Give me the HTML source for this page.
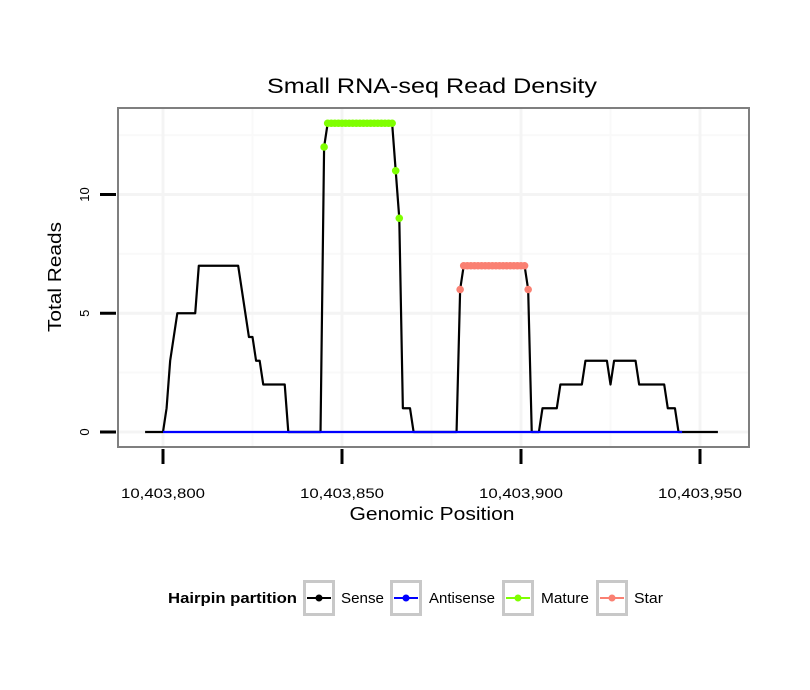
<!DOCTYPE html>
<html><head><meta charset="utf-8"><style>
body{margin:0;background:#fff;}
svg{display:block;font-family:"Liberation Sans","DejaVu Sans",sans-serif;}
</style></head><body>
<svg width="810" height="690" viewBox="0 0 810 690">
<rect width="810" height="690" fill="#fff"/>
<text x="432" y="93" text-anchor="middle" font-size="21" textLength="330" lengthAdjust="spacingAndGlyphs">Small RNA-seq Read Density</text>
<g id="grid"></g>
<g id="marks"></g>
<rect x="118" y="108" width="631" height="339" fill="none" stroke="#7f7f7f" stroke-width="2"/>
<g id="axes"></g>
<text x="432" y="520" text-anchor="middle" font-size="18" textLength="165" lengthAdjust="spacingAndGlyphs">Genomic Position</text>
<text transform="translate(61,277) rotate(-90)" text-anchor="middle" font-size="18" textLength="110" lengthAdjust="spacingAndGlyphs">Total Reads</text>
<g>
<text x="168" y="603" font-size="15" font-weight="bold" textLength="129" lengthAdjust="spacingAndGlyphs">Hairpin partition</text>
<g><rect x="304.5" y="581.5" width="29" height="33" fill="#fff" stroke="#c8c8c8" stroke-width="3"/><line x1="307" y1="598" x2="331" y2="598" stroke="#000" stroke-width="2"/><circle cx="319" cy="598" r="3.5" fill="#000"/><text x="341" y="603" font-size="15" textLength="43" lengthAdjust="spacingAndGlyphs">Sense</text></g>
<g><rect x="391.5" y="581.5" width="29" height="33" fill="#fff" stroke="#c8c8c8" stroke-width="3"/><line x1="394" y1="598" x2="418" y2="598" stroke="#0000ff" stroke-width="2"/><circle cx="406" cy="598" r="3.5" fill="#0000ff"/><text x="429" y="603" font-size="15" textLength="66" lengthAdjust="spacingAndGlyphs">Antisense</text></g>
<g><rect x="503.5" y="581.5" width="29" height="33" fill="#fff" stroke="#c8c8c8" stroke-width="3"/><line x1="506" y1="598" x2="530" y2="598" stroke="#7fff00" stroke-width="2"/><circle cx="518" cy="598" r="3.5" fill="#7fff00"/><text x="541" y="603" font-size="15" textLength="48" lengthAdjust="spacingAndGlyphs">Mature</text></g>
<g><rect x="597.5" y="581.5" width="29" height="33" fill="#fff" stroke="#c8c8c8" stroke-width="3"/><line x1="600" y1="598" x2="624" y2="598" stroke="#fa8072" stroke-width="2"/><circle cx="612" cy="598" r="3.5" fill="#fa8072"/><text x="634" y="603" font-size="15" textLength="29" lengthAdjust="spacingAndGlyphs">Star</text></g>
</g>
</svg>
<script>
const senseStart = 10403795;
const senseValues = [0,0,0,0,0,0,1,3,4,5,5,5,5,5,5,7,7,7,7,7,7,7,7,7,7,7,7,6,5,4,4,3,3,2,2,2,2,2,2,2,0,0,0,0,0,0,0,0,0,0,12,13,13,13,13,13,13,13,13,13,13,13,13,13,13,13,13,13,13,13,11,9,1,1,1,0,0,0,0,0,0,0,0,0,0,0,0,0,6,7,7,7,7,7,7,7,7,7,7,7,7,7,7,7,7,7,7,6,0,0,0,1,1,1,1,1,2,2,2,2,2,2,2,3,3,3,3,3,3,3,2,3,3,3,3,3,3,3,2,2,2,2,2,2,2,2,1,1,1,0,0,0,0,0,0,0,0,0,0,0,0];
const antisensePositions = [10403800, 10403945];
const antisenseValues = [0, 0];
const matureStart = 10403845;
const matureValues = [12,13,13,13,13,13,13,13,13,13,13,13,13,13,13,13,13,13,13,13,11,9];
const starStart = 10403883;
const starValues = [6,7,7,7,7,7,7,7,7,7,7,7,7,7,7,7,7,7,7,6];
const xTicks = [10403800, 10403850, 10403900, 10403950];
const xTickLabels = ["10,403,800","10,403,850","10,403,900","10,403,950"];
const yTicks = [0, 5, 10];
const yTickLabels = ["0","5","10"];

const NS = "http://www.w3.org/2000/svg";
function X(p){ return 163 + (p - 10403800) * 3.58; }
function Y(v){ return 432 - v * 23.75; }
function mk(tag, attrs, parent){ const e=document.createElementNS(NS,tag); for(const k in attrs) e.setAttribute(k,attrs[k]); parent.appendChild(e); return e; }
const grid=document.getElementById('grid'), marks=document.getElementById('marks'), axes=document.getElementById('axes');
mk('rect',{x:118,y:108,width:631,height:339,fill:'#fff'},grid);
for(let i=0;i<xTicks.length-1;i++){ const x=X((xTicks[i]+xTicks[i+1])/2); const l=mk('line',{x1:x,x2:x,y1:108,y2:447,stroke:'#f9f9f9','stroke-width':2},grid);

 }
for(let i=0;i<yTicks.length;i++){ const y=Y(yTicks[i]+2.5); const l=mk('line',{x1:118,x2:749,y1:y,y2:y,stroke:'#f9f9f9','stroke-width':2},grid);

 }
xTicks.forEach((t,i)=>{ const x=X(t);
 const g=mk('line',{x1:x,x2:x,y1:108,y2:447,stroke:'#f4f4f4','stroke-width':3},grid);
 
 
 const tk=mk('line',{x1:x,x2:x,y1:449,y2:464,stroke:'#000','stroke-width':3},axes);
 
 
 const tx=mk('text',{x:x,y:498,'text-anchor':'middle','font-size':14,textLength:84,lengthAdjust:'spacingAndGlyphs'},axes); tx.textContent=xTickLabels[i];
 
 
});
yTicks.forEach((t,i)=>{ const y=Y(t);
 const g=mk('line',{x1:118,x2:749,y1:y,y2:y,stroke:'#f4f4f4','stroke-width':3},grid);
 
 
 const tk=mk('line',{x1:100,x2:116,y1:y,y2:y,stroke:'#000','stroke-width':3},axes);
 
 
 const tx=mk('text',{transform:`translate(89,${y}) rotate(-90)`,'text-anchor':'middle','font-size':13},axes); tx.textContent=yTickLabels[i];
 
 
});
function line(start, vals, color, name){
 const pts=vals.map((v,i)=>X(start+i)+','+Y(v)).join(' ');
 const p=mk('polyline',{points:pts,fill:'none',stroke:color,'stroke-width':2.2,'stroke-linejoin':'round'},marks);
 
 
}
line(senseStart, senseValues, '#000', 'sense-line');
const ap=antisensePositions.map((p,i)=>X(p)+','+Y(antisenseValues[i])).join(' ');
const al=mk('polyline',{points:ap,fill:'none',stroke:'#0000ff','stroke-width':2.2},marks);


function pts(start, vals, color, name){
 vals.forEach((v,i)=>{ const c=mk('circle',{cx:X(start+i),cy:Y(v),r:3.8,fill:color},marks);
 
  });
}
pts(matureStart, matureValues, '#7fff00', 'mature-point');
pts(starStart, starValues, '#fa8072', 'star-point');
</script>
</body></html>
